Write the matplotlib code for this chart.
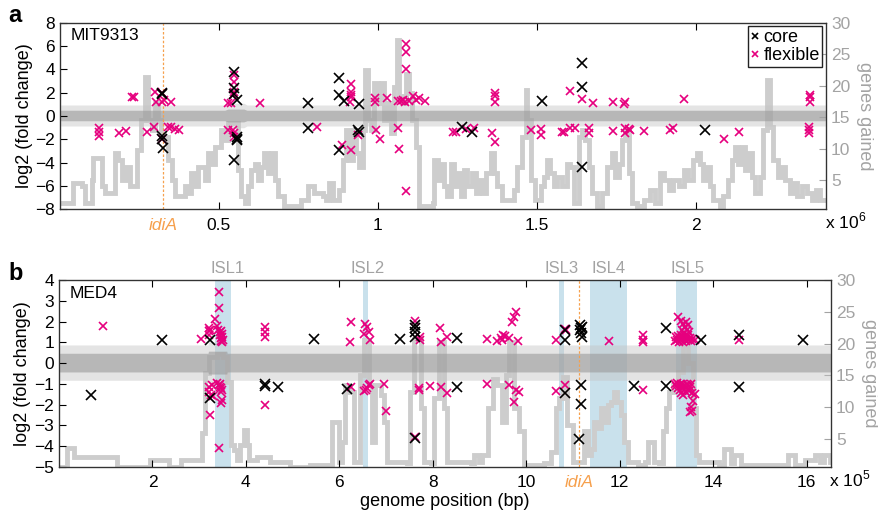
import matplotlib
matplotlib.use("Agg")
import matplotlib.pyplot as plt
from matplotlib.lines import Line2D

plt.rcParams['font.family'] = ['Liberation Sans', 'DejaVu Sans']
plt.rcParams['mathtext.fontset'] = 'custom'
plt.rcParams['mathtext.rm'] = 'Liberation Sans'

CORE = 'black'
FLEX = '#e6007e'
LINEGRAY = '#cdcdcd'
AXGRAY = '#a3a3a3'
ORANGE = '#f6a04d'
ISLBLUE = '#c9e1ec'

# ---------------- MIT9313 (positions in Mb) ----------------
mit_idiA = 0.324

mit_gain_pos = [0.0, 0.02, 0.042, 0.068, 0.08, 0.1, 0.105, 0.115, 0.131, 0.141, 0.162, 0.173, 0.183,
                0.194, 0.204, 0.209, 0.22, 0.241, 0.256, 0.267, 0.277, 0.288, 0.298, 0.309, 0.319,
                0.34, 0.351, 0.361, 0.382, 0.392, 0.403, 0.413, 0.424, 0.434, 0.455, 0.466, 0.476,
                0.487, 0.508, 0.518, 0.528, 0.539, 0.56, 0.57, 0.581, 0.591, 0.602, 0.612, 0.622,
                0.633, 0.643, 0.654, 0.664, 0.675, 0.685, 0.706, 0.738, 0.759, 0.779, 0.8,
                0.826, 0.837, 0.847, 0.858, 0.879, 0.889, 0.9, 0.91, 0.921, 0.931, 0.942, 0.952,
                0.96, 0.968, 0.978, 0.989, 0.999, 1.01, 1.02, 1.031, 1.041, 1.051, 1.059, 1.067,
                1.078, 1.088, 1.099, 1.109, 1.12, 1.13, 1.172, 1.177, 1.188, 1.198, 1.208, 1.219,
                1.229, 1.24, 1.25, 1.261, 1.271, 1.282, 1.297, 1.308, 1.318, 1.329, 1.339, 1.355,
                1.365, 1.376, 1.391, 1.412, 1.428, 1.439, 1.454, 1.465, 1.47, 1.481, 1.496, 1.512,
                1.522, 1.533, 1.543, 1.554, 1.564, 1.58, 1.595, 1.606, 1.616, 1.632, 1.643, 1.653,
                1.664, 1.674, 1.69, 1.705, 1.721, 1.737, 1.747, 1.758, 1.768, 1.779, 1.789, 1.8,
                1.815, 1.836, 1.857, 1.873, 1.889, 1.899, 1.915, 1.93, 1.946, 1.962, 1.977, 1.993,
                2.004, 2.014, 2.024, 2.035, 2.045, 2.056, 2.077, 2.087, 2.103, 2.113, 2.124, 2.134,
                2.145, 2.155, 2.166, 2.176, 2.187, 2.202, 2.213, 2.223, 2.234, 2.244, 2.26, 2.27,
                2.281, 2.297, 2.307, 2.318, 2.333, 2.349, 2.365, 2.38, 2.391, 2.41]
mit_gain_val = [1.3, 1.3, 4.5, 4.0, 1.3, 5.0, 8.5, 8.5, 4.0, 2.9, 2.9, 9.3, 8.2,
                5.0, 5.0, 7.1, 4.0, 9.8, 14.6, 21.4, 14.6, 12.9, 17.2, 14.6, 11.9,
                8.2, 5.0, 2.4, 2.4, 4.0, 2.9, 6.1, 4.0, 7.1, 5.0, 9.3, 7.6,
                10.3, 12.9, 11.4, 14.0, 14.0, 6.6, 2.4, 1.3, 4.0, 6.6, 7.6, 5.0,
                7.1, 9.3, 6.1, 9.3, 5.0, 2.4, 0.8, 0.8, 1.9, 4.0, 2.9,
                2.4, 1.9, 4.5, 1.9, 3.4, 8.2, 12.9, 8.2, 12.9, 9.3, 7.1, 12.9,
                22.5, 14.6, 12.9, 20.4, 17.2, 20.4, 14.6, 17.2, 12.4, 19.8, 27.3, 18.3,
                17.2, 21.9, 18.8, 14.6, 10.3, 0.8, 1.3, 8.2, 5.0, 7.6, 4.0, 2.4,
                7.6, 4.0, 6.1, 2.4, 6.6, 4.0, 6.1, 2.9, 5.0, 2.9, 6.1, 9.3,
                6.1, 4.0, 1.9, 1.9, 3.4, 7.1, 11.9, 19.3, 14.6, 5.0, 1.9, 4.0,
                5.5, 8.2, 6.1, 4.0, 5.5, 4.0, 7.6, 7.1, 1.3, 11.9, 12.9, 11.4,
                7.1, 2.9, 0.8, 2.9, 7.1, 9.3, 5.5, 7.6, 11.4, 12.9, 6.1, 1.3,
                0.8, 1.9, 3.4, 1.3, 6.1, 5.0, 3.4, 5.0, 4.0, 6.6, 5.0, 8.2,
                9.3, 7.6, 5.0, 7.1, 4.0, 1.9, 0.8, 2.4, 5.0, 8.2, 10.3, 7.6,
                10.3, 6.6, 9.3, 5.5, 2.9, 5.5, 12.9, 20.9, 13.5, 8.2, 5.5, 7.1,
                5.0, 2.9, 4.5, 2.4, 4.0, 2.9, 1.9, 3.4, 1.9, 1.9]

mit_core_pos = [0.322, 0.322, 0.322, 0.322, 0.325, 0.547, 0.547, 0.549, 0.558, 0.556, 0.558, 0.556,
                0.549, 0.78, 0.78, 0.877, 0.877, 0.895, 0.877, 0.94, 0.938, 0.94, 1.266, 1.295,
                1.515, 1.643, 1.643, 1.643, 2.03]
mit_core_fc = [2.0, 1.85, -1.73, -2.0, -2.73, 3.8, 2.37, 1.88, 1.37, -1.79, -1.93, -2.1,
               -3.73, 1.13, -1.07, 3.23, 1.8, 1.28, -2.93, 1.02, -1.21, -1.36, -0.98, -1.41,
               1.31, 4.57, 2.51, -4.36, -1.21]

mit_flex_pos = [0.123, 0.123, 0.123, 0.186, 0.207, 0.227, 0.232, 0.275, 0.296, 0.298, 0.303, 0.322,
                0.322, 0.326, 0.322, 0.34, 0.35, 0.361, 0.374, 0.348,
                0.547, 0.549, 0.547, 0.545, 0.528, 0.537, 0.528, 0.545, 0.547, 0.549, 0.63, 0.809,
                0.916, 0.916, 0.916, 0.916, 0.912, 0.887, 0.916, 0.938,
                0.992, 0.992, 0.994, 1.007, 1.029, 1.062, 1.067,
                1.064, 1.072, 1.08, 1.085, 1.098, 1.09, 1.09, 1.09, 1.09,
                1.111, 1.12, 1.13, 1.149,
                1.237, 1.245, 1.276, 1.303,
                1.368, 1.368, 1.368, 1.36, 1.368,
                1.483, 1.512, 1.512, 1.58, 1.606, 1.606,
                1.643, 1.677, 1.74, 1.779, 1.776, 1.962, 2.359, 2.359, 2.359,
                1.585, 1.619, 1.664, 1.664, 1.74, 1.779, 1.779, 1.789, 1.794, 1.836, 1.92, 1.93,
                2.09, 2.137, 2.357, 2.357, 2.357]
mit_flex_fc = [-1.07, -1.36, -1.7, -1.5, -1.27, 1.65, 1.6, -1.36, -0.98, 2.08, 1.17, 1.97,
               1.22, 1.35, -1.93, -0.98, -0.98, -1.15, -1.21, 1.22,
               3.5, 2.94, 2.08, 1.8, 1.13, 1.13, -1.21, -1.21, -1.5, -1.84, 1.13, -0.98,
               2.74, 2.08, 1.8, 1.6, 1.22, -2.5, -2.93, -1.64,
               1.51, 1.22, -1.21, -1.93, 1.56, -1.07, -2.79,
               1.3, 1.25, 1.35, 1.2, 1.3, 6.18, 5.52, 4.03, -6.4,
               1.71, 1.37, 1.51, 1.28,
               -1.36, -1.36, -1.15, -1.07,
               1.94, 1.71, 1.22, -1.44, -2.22,
               -1.21, -1.15, -1.64, -1.36, 2.14, -1.07,
               1.45, 1.08, 1.22, 1.22, 1.0, 1.43, 1.65, 1.8, 1.22,
               -1.36, -1.07, -1.07, -1.5, -1.27, -1.07, -1.44, -1.15, -1.21, -1.27, -1.21, -1.07,
               -1.93, -1.36, -0.98, -1.21, -1.5]

# spread of the background (all genes) log2 fold changes
mit_cloud_pos = [0.0, 0.52, 0.53, 0.58, 0.59, 2.41]
mit_cloud_inner = [0.45, 0.45, 0.55, 0.55, 0.45, 0.45]
mit_cloud_outer = [0.9, 0.9, 1.05, 1.05, 0.9, 0.9]

# ---------------- MED4 (positions in units of 1e5 bp) ----------------
med_idiA = 11.13
isl_names = ['ISL1', 'ISL2', 'ISL3', 'ISL4', 'ISL5']
isl_start = [3.34, 6.51, 10.69, 11.37, 13.2]
isl_end = [3.67, 6.62, 10.81, 12.15, 13.65]
isl_label_pos = [3.6, 6.6, 10.76, 11.77, 13.46]

med_gain_pos = [0.0, 0.12, 0.165, 0.27, 0.33, 1.2, 1.25, 1.88, 1.95, 2.3, 2.35, 2.59, 2.62, 3.02,
                3.06, 3.13, 3.2, 3.38, 3.52, 3.59, 3.67, 3.74, 3.81, 3.88, 3.95, 4.02, 4.06, 4.24,
                4.45, 4.52, 4.81, 4.95, 5.38, 5.81, 5.85, 5.92, 5.99, 6.06, 6.13, 6.2, 6.31, 6.45,
                6.52, 6.63, 6.7, 6.77, 6.88, 6.95, 7.02, 7.45, 7.52, 7.6, 7.74, 7.81, 7.95, 8.02,
                8.13, 8.24, 8.31, 8.81, 8.88, 8.99, 9.06, 9.17, 9.28, 9.38, 9.49, 9.56, 9.63, 9.74,
                9.85, 9.95, 10.38, 10.53, 10.63, 10.7, 10.78, 10.88, 10.99, 11.13, 11.24, 11.31,
                11.38, 11.45, 11.53, 11.6, 11.67, 11.74, 11.81, 11.88, 11.95, 12.03, 12.1, 12.17,
                12.38, 12.53, 12.6, 12.67, 12.74, 12.85, 12.92, 12.99, 13.06, 13.13, 13.24, 13.35,
                13.46, 13.56, 13.63, 13.7, 14.13, 14.24, 14.31, 14.38, 14.45, 14.53, 14.6, 15.49,
                15.6, 15.67, 15.74, 15.96, 16.17, 16.28, 16.38, 16.49, 16.52]
med_gain_val = [0.6, 0.6, 3.6, 3.6, 2.2, 2.2, 0.6, 0.6, 1.7, 1.7, 0.6, 0.6, 1.7, 1.7,
                6.0, 15.4, 17.9, 18.3, 17.9, 14.0, 4.0, 3.2, 1.7, 4.0, 6.4, 4.0, 1.7, 2.2,
                2.2, 1.4, 1.4, 0.6, 0.9, 0.9, 7.7, 7.7, 1.4, 4.6, 13.5, 12.4, 1.4, 15.1,
                20.5, 13.5, 4.6, 13.5, 11.9, 7.7, 1.4, 1.2, 12.4, 20.8, 9.8, 1.4, 1.2, 11.4,
                20.3, 9.8, 1.4, 1.2, 2.5, 1.4, 2.5, 9.8, 14.5, 13.5, 7.7, 15.1, 20.3, 9.8,
                6.2, 0.9, 1.2, 3.0, 9.8, 11.4, 14.8, 7.2, 1.4, 1.4, 6.2, 2.5,
                3.5, 7.7, 6.7, 9.8, 7.7, 10.3, 10.8, 12.4, 10.8, 8.8, 4.6, 1.4,
                0.9, 1.4, 4.6, 4.6, 1.4, 1.2, 6.2, 9.8, 12.4, 13.5, 15.5, 20.0,
                17.0, 9.8, 2.5, 1.4, 0.9, 3.5, 3.5, 1.2, 2.5, 2.5, 0.9, 0.9,
                2.5, 2.5, 0.9, 1.7, 2.5, 1.4, 2.5, 1.4, 1.4]

med_core_pos = [0.68, 2.2, 3.24, 3.24, 4.4, 4.4, 4.69, 5.45, 6.17, 7.3, 7.62, 7.62, 7.62, 7.62,
                7.62, 8.52, 8.52, 10.83, 10.83, 10.83, 11.15, 11.17, 11.15, 11.2, 11.17, 11.2,
                11.17, 11.18, 11.13, 12.31, 12.99, 12.99, 13.74, 14.56, 14.56, 15.92]
med_core_fc = [-1.53, 1.11, 1.11, -1.7, -1.0, -1.08, -1.13, 1.16, -1.25, 1.16, 1.83, 1.67, 1.51,
               1.27, -3.59, 1.19, -1.13, 1.59, 1.11, -1.45, 1.83, 1.7, 1.59, 1.75, 1.43, 1.27,
               -1.05, -1.98, -3.65, -1.09, 1.67, -1.09, 1.11, 1.35, -1.13, 1.11]

med_flex_pos = [0.95, 3.04, 3.2, 3.21, 3.22, 3.24, 3.33, 3.38, 3.4, 3.42, 3.42, 3.44, 3.45, 3.46,
                3.47, 3.48, 3.49, 3.5, 3.47, 3.49,
                3.2, 3.22, 3.25, 3.27, 3.24, 3.38, 3.42, 3.45, 3.47, 3.49, 3.44, 3.46, 3.48, 3.47,
                3.42, 3.3,
                4.4, 4.4, 4.4, 4.4,
                6.25, 6.22, 6.25, 6.55, 6.6, 6.52, 6.63, 6.66, 6.52, 6.57, 6.6, 6.63, 6.66, 6.95,
                6.99,
                7.62, 7.72, 7.72, 7.71, 7.71, 7.62, 7.93, 8.15, 8.17, 8.3, 8.18, 8.3,
                9.15, 9.15, 9.37, 9.45, 9.5, 9.55, 9.62, 9.48, 9.7, 9.74, 9.78, 9.82, 9.63, 9.77,
                9.85, 9.74,
                10.63, 10.63, 10.83, 10.85, 10.83,
                11.78, 12.5, 12.5, 12.5, 12.5, 14.56,
                13.18, 13.2, 13.22, 13.24, 13.25, 13.27, 13.28, 13.3, 13.31, 13.32, 13.33, 13.34,
                13.35, 13.36, 13.37, 13.38, 13.39, 13.4, 13.41, 13.42, 13.43, 13.44, 13.45, 13.46,
                13.47, 13.48, 13.5, 13.52, 13.55, 13.6,
                13.18, 13.2, 13.22, 13.24, 13.26, 13.28, 13.3, 13.31, 13.33, 13.35, 13.36, 13.38,
                13.4, 13.42, 13.44, 13.45, 13.47, 13.49, 13.5, 13.52, 13.55, 13.57, 13.53, 13.5,
                13.55, 13.62]
med_flex_fc = [1.8, 1.16, 1.55, 1.7, 1.35, 1.6, 2.12, 1.8, 1.6, 2.67, 3.41, 1.35, 1.5, 1.2,
               1.05, 1.4, 1.25, 1.1, 1.55, 1.0,
               -1.13, -1.37, -1.53, -1.05, -2.5, -0.97, -1.05, -1.13, -1.21, -1.29, -1.0, -1.4,
               -1.77, -1.93, -4.07, -1.6,
               1.75, 1.51, 1.27, -2.02,
               1.96, 1.03, -1.17, 1.88, 1.75, 1.39, 1.51, 1.11, -1.33, -1.29, -1.21, -1.05, -1.01,
               -1.02, -2.3,
               2.04, 1.27, 1.11, -1.21, -1.29, -3.55, -1.1, 1.7, 1.03, 1.24, -1.17, -1.45,
               1.14, -1.02, 1.08, 1.19, 1.35, 1.3, 1.19, 1.1, 1.99, 2.23, 2.44, 1.06, -1.05, -1.29,
               -1.37, -1.89,
               1.11, -1.34, 1.64, 1.6, -1.05,
               1.06, 1.35, 1.11, 1.03, -1.29, 1.12,
               1.05, 1.25, 1.1, 2.2, 1.3, 1.0, 1.2, 2.05, 1.35, 1.1, 1.6, 1.25,
               1.0, 1.9, 1.45, 1.15, 1.75, 1.3, 2.0, 1.05, 1.6, 1.2, 1.85, 1.35,
               1.1, 1.5, 1.2, 1.05, 1.15, 1.1,
               -1.0, -1.1, -0.98, -1.2, -1.05, -1.3, -1.0, -1.45, -1.15, -1.55, -1.0, -1.3,
               -1.1, -1.4, -1.0, -1.25, -1.05, -1.35, -1.15, -1.0, -1.45, -1.8, -2.1, -2.35,
               -2.3, -1.5]

med_cloud_pos = [0.0, 3.2, 3.21, 3.6, 3.61, 16.52]
med_cloud_inner = [0.45, 0.45, 0.55, 0.55, 0.45, 0.45]
med_cloud_outer = [0.85, 0.85, 1.0, 1.0, 0.85, 0.85]


def draw_panel(fig, rect, xlim, ylim, yticks, xticks, xticklabels,
               gain_pos, gain_val, core_pos, core_fc, flex_pos, flex_fc,
               cloud_pos, cloud_inner, cloud_outer, idia, strain, yright_min):
    ax = fig.add_axes(rect)
    ax2 = ax.twinx()
    ax.set_zorder(2)
    ax2.set_zorder(1)
    ax.patch.set_visible(False)

    # genes gained (right axis)
    ax2.plot(gain_pos, gain_val, color=LINEGRAY, lw=3.5, drawstyle='steps-post',
             solid_joinstyle='miter', zorder=2)
    ax2.set_ylim(yright_min, 30)
    ax2.set_yticks([5, 10, 15, 20, 25, 30])
    ax2.tick_params(axis='y', direction='in', length=5, colors=AXGRAY, labelsize=12.5,
                    labelcolor=AXGRAY)
    ax2.set_ylabel('genes gained', color=AXGRAY, fontsize=13, rotation=270, labelpad=16)

    # background genes, drawn as a grey band
    lo_o = [-v for v in cloud_outer]
    lo_i = [-v for v in cloud_inner]
    ax.fill_between(cloud_pos, lo_o, cloud_outer, facecolor='#c4c4c4', alpha=0.45,
                    linewidth=0, zorder=1)
    ax.fill_between(cloud_pos, lo_i, cloud_inner, facecolor='#9a9a9a', alpha=0.6,
                    linewidth=0, zorder=1.2)

    ax.axvline(idia, color=ORANGE, lw=0.9, ls=(0, (2, 1.5)), zorder=1.5)

    ax.plot(flex_pos, flex_fc, 'x', color=FLEX, ms=5.5, mew=1.2, zorder=3)
    ax.plot(core_pos, core_fc, 'x', color=CORE, ms=6.5, mew=1.2, zorder=4)

    ax.set_xlim(*xlim)
    ax.set_ylim(*ylim)
    ax.set_yticks(yticks)
    ax.set_xticks(xticks)
    ax.set_xticklabels(xticklabels)
    ax.tick_params(direction='in', length=5, top=True, right=False, labelsize=12.5)
    ax.tick_params(axis='x', pad=6)
    ax.set_ylabel('log2 (fold change)', fontsize=13, labelpad=2)
    ax.text(0.014, 0.97, strain, transform=ax.transAxes, fontsize=12.5, va='top', ha='left')
    ax.annotate('idiA', xy=(idia, 0), xycoords=('data', 'axes fraction'), xytext=(0, -6),
                textcoords='offset points', ha='center', va='top', color=ORANGE,
                fontsize=12.5, style='italic')
    for s in ax.spines.values():
        s.set_linewidth(0.9)
        s.set_color('#333333')
    return ax, ax2


fig = plt.figure(figsize=(8.79, 5.16), dpi=100)

ax_a, ax_a2 = draw_panel(fig, [60 / 879, 1 - 209.3 / 516, 766 / 879, 186.6 / 516],
                         (0, 2.41), (-8, 8), list(range(-8, 9, 2)),
                         [0.5, 1, 1.5, 2], ['0.5', '1', '1.5', '2'],
                         mit_gain_pos, mit_gain_val, mit_core_pos, mit_core_fc,
                         mit_flex_pos, mit_flex_fc, mit_cloud_pos, mit_cloud_inner,
                         mit_cloud_outer, mit_idiA, 'MIT9313', 0.35)

ax_b, ax_b2 = draw_panel(fig, [59 / 879, 1 - 467 / 516, 772 / 879, 187 / 516],
                         (0, 16.52), (-5, 4), list(range(-5, 5)),
                         list(range(2, 17, 2)), [str(v) for v in range(2, 17, 2)],
                         med_gain_pos, med_gain_val, med_core_pos, med_core_fc,
                         med_flex_pos, med_flex_fc, med_cloud_pos, med_cloud_inner,
                         med_cloud_outer, med_idiA, 'MED4', 0.6)

# genomic islands
for name, a, b, c in zip(isl_names, isl_start, isl_end, isl_label_pos):
    ax_b2.axvspan(a, b, color=ISLBLUE, lw=0, zorder=0)
    ax_b.annotate(name, xy=(c, 1), xycoords=('data', 'axes fraction'), xytext=(0, 3),
                  textcoords='offset points', ha='center', va='bottom', color=AXGRAY,
                  fontsize=12)

ax_b.set_xlabel('genome position (bp)', fontsize=13, labelpad=2)

# legend
handles = [Line2D([], [], ls='none', marker='x', color=CORE, ms=4.5, mew=1.2),
           Line2D([], [], ls='none', marker='x', color=FLEX, ms=4.5, mew=1.2)]
leg = ax_a.legend(handles, ['core', 'flexible'], loc='upper right', fontsize=13,
                  frameon=True, fancybox=False, edgecolor='#222222', framealpha=1,
                  handlelength=0.5, handletextpad=0.2, borderpad=0.15, labelspacing=0.05,
                  borderaxespad=0.2)
leg.get_frame().set_linewidth(1.0)

# exponent labels
fig.text(825 / 879, 1 - 221 / 516, 'x 10$^{6}$', fontsize=12.5, ha='left', va='center')
fig.text(829 / 879, 1 - 479 / 516, 'x 10$^{5}$', fontsize=12.5, ha='left', va='center')

# panel letters
fig.text(8 / 879, 1 - 16 / 516, 'a', fontsize=17, fontweight='bold', va='center')
fig.text(8 / 879, 1 - 273 / 516, 'b', fontsize=17, fontweight='bold', va='center')

fig.savefig('out.png', dpi=100)
